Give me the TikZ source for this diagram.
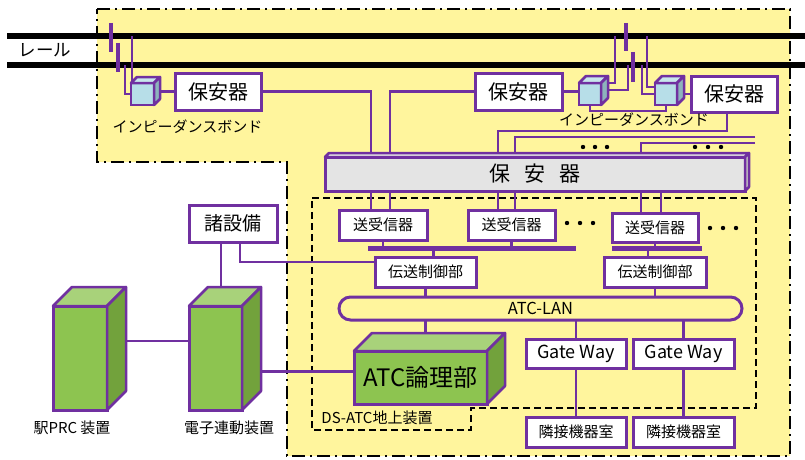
\documentclass[tikz,border=0pt]{standalone}
\usepackage{fontspec}
\setmainfont{Noto Sans CJK JP}
\usepackage{xcolor}
\usepackage{tikz}
\usetikzlibrary{calc}

\definecolor{atcpurple}{HTML}{7030A0}
\definecolor{areayellow}{HTML}{FFF59D}
\definecolor{bondfront}{HTML}{B7DEE8}
\definecolor{bondtop}{HTML}{C8E6EC}
\definecolor{bondside}{HTML}{8DB3BC}
\definecolor{devfront}{HTML}{8DC450}
\definecolor{devtop}{HTML}{A8D27A}
\definecolor{devside}{HTML}{72A23C}
\definecolor{rackgrey}{HTML}{E4E4E4}

\newcommand{\jfs}[1]{\fontsize{#1}{#1}\selectfont}
% top and right faces of a box drawn in depth
\newcommand{\blockfaces}[4]{%
    \filldraw[face, fill=#3] (#1.north west) -- ++(#2,-#2) -- ([shift={(#2,-#2)}]#1.north east) -- (#1.north east) -- cycle;
    \filldraw[face, fill=#4] (#1.north east) -- ([shift={(#2,-#2)}]#1.north east) -- ([shift={(#2,-#2)}]#1.south east) -- (#1.south east) -- cycle;
}

\pgfdeclarelayer{ground}
\pgfdeclarelayer{cables}
\pgfsetlayers{ground,cables,main}

\tikzset{
    box/.style={draw=atcpurple, line width=3pt, fill=white, inner sep=0pt, outer sep=0pt},
    block/.style={box, fill=devfront},
    bond/.style={box, line width=2.5pt, fill=bondfront, minimum width=22pt, minimum height=22pt},
    face/.style={draw=atcpurple, line width=2.5pt, line join=round},
    wire/.style={draw=atcpurple, line width=2.4pt},
    bus/.style={draw=atcpurple, line width=5pt},
    joint/.style={draw=atcpurple, line width=4pt},
    rail/.style={draw=black, line width=5.5pt},
    area/.style={fill=areayellow, draw=black, line width=2.5pt, dash pattern=on 13pt off 5pt on 2pt off 5pt},
    frame/.style={draw=black, line width=1.8pt, dash pattern=on 7pt off 4pt},
    caption/.style={inner sep=0pt, font=\jfs{15}}
}

\begin{document}
\begin{tikzpicture}[x=1pt,y=-1pt]
    \useasboundingbox (0,0) rectangle (805,460);

    % wayside equipment
    \draw (218,91.5)   node[box, minimum width=86pt, minimum height=37pt, font=\jfs{20}](hoan1){保安器};
    \draw (518.5,91.5) node[box, minimum width=87pt, minimum height=37pt, font=\jfs{20}](hoan2){保安器};
    \draw (734,94)     node[box, minimum width=86pt, minimum height=36pt, font=\jfs{20}](hoan3){保安器};
    \draw (142.5,94)   node[bond, minimum width=23pt](cube1){};
    \draw (590,94)     node[bond](cube2){};
    \draw (666,94)     node[bond](cube3){};

    \draw (535,174) node[box, fill=rackgrey, minimum width=420pt, minimum height=34pt, font=\jfs{21}](hoanall){保\hspace{14pt}安\hspace{14pt}器};

    \draw (383,225)   node[box, minimum width=88pt, minimum height=30pt, font=\jfs{15}](sj1){送受信器};
    \draw (511.5,225) node[box, minimum width=87pt, minimum height=30pt, font=\jfs{15}](sj2){送受信器};
    \draw (655,227.5) node[box, minimum width=86pt, minimum height=29pt, font=\jfs{15}](sj3){送受信器};
    \draw (425.5,272) node[box, minimum width=101pt, minimum height=30pt, font=\jfs{15}](den1){伝送制御部};
    \draw (655,272)   node[box, minimum width=102pt, minimum height=30pt, font=\jfs{15}](den2){伝送制御部};
    \draw (233,223.5) node[box, minimum width=88pt, minimum height=37pt, font=\jfs{19}](shosetsubi){諸設備};

    \draw (540.5,308.5) node[box, fill=areayellow, rounded corners=11.5pt, minimum width=403pt, minimum height=23pt, font=\jfs{16.5}](lan){ATC-LAN};
    \draw (576,353.5)   node[box, minimum width=100pt, minimum height=29pt, font=\jfs{18}](gw1){Gate Way};
    \draw (683.5,353.5) node[box, minimum width=101pt, minimum height=29pt, font=\jfs{18}](gw2){Gate Way};
    \draw (576,432)     node[box, minimum width=100pt, minimum height=30pt, font=\jfs{15}](rin1){隣接機器室};
    \draw (683.5,432)   node[box, minimum width=101pt, minimum height=30pt, font=\jfs{15}](rin2){隣接機器室};

    \draw (420.5,377.5) node[block, minimum width=133pt, minimum height=53pt, font=\jfs{24}](atc){ATC論理部};
    \draw (215.5,358)   node[block, minimum width=53pt, minimum height=104pt](densi){};
    \draw (80,358)      node[block, minimum width=54pt, minimum height=104pt](prc){};

    \blockfaces{cube1}{6}{bondtop}{bondside}
    \blockfaces{cube2}{7}{bondtop}{bondside}
    \blockfaces{cube3}{7}{bondtop}{bondside}
    \blockfaces{hoanall}{4}{rackgrey}{rackgrey!85!black}
    \blockfaces{atc}{18}{devtop}{devside}
    \blockfaces{densi}{19}{devtop}{devside}
    \blockfaces{prc}{19}{devtop}{devside}

    % captions
    \draw (45,50)      node[caption, font=\jfs{17.5}](raillabel){レール};
    \draw (187.5,127)  node[caption](bondlabel1){インピーダンスボンド};
    \draw (634,120)    node[caption](bondlabel2){インピーダンスボンド};
    \draw (377,418)    node[caption](dslabel){DS-ATC地上装置};
    \draw (72,428)     node[caption](prclabel){駅PRC 装置};
    \draw (229,428)    node[caption](densilabel){電子連動装置};

    \begin{pgfonlayer}{ground}
        \filldraw[area] (97,9) -- (790,9) -- (790,456) -- (287,456) -- (287,162) -- (97,162) -- cycle;
        \draw[rail] (7,36) -- (805,36);
        \draw[rail] (7,65) -- (805,65);
        \draw[frame] (312,198) -- (756,198) -- (756,408) -- (471,408) -- (471,430) -- (312,430) -- cycle;
    \end{pgfonlayer}

    \begin{pgfonlayer}{cables}
        % rail joints and bond leads
        \draw[joint] (111,23) -- (111,52);
        \draw[joint] (118,43) -- (118,72);
        \draw[joint] (626,23) -- (626,51);
        \draw[joint] (633,52) -- (633,82);
        \coordinate (up1) at (132,36);
        \coordinate (lo1) at (125,65);
        \coordinate (up2) at (615,36);
        \coordinate (lo2) at (628,65);
        \coordinate (up3) at (647,36);
        \coordinate (lo3) at (642,65);
        \draw[wire] (up1) -- (up1 |- cube1.north);
        \draw[wire] (lo1) |- (cube1.west);
        \draw[wire] (up2) |- ([xshift=7pt]cube2.north east);
        \draw[wire] (lo2) |- ([shift={(7,-4)}]cube2.east);
        \draw[wire] (up3) |- ([yshift=7pt]cube3.west);
        \draw[wire] (lo3) |- (cube3.west);
        \draw[wire] (cube2.south) -- ++(0,6) -| (cube3.south);
        \draw[wire] (cube1.east |- hoan1.west) -- (hoan1.west);
        \draw[wire] (hoan2.east) -- (hoan2.east -| cube2.west);
        \draw[wire] (cube3.east |- hoan3.west) -- (hoan3.west);

        % cables through the protector rack
        \coordinate (feed1) at (755,137);
        \coordinate (feed2) at (755,143);
        \draw[wire] (hoan1.east) -| ([xshift=32pt]sj1.north west);
        \draw[wire] (hoan2.west) -| ([xshift=51pt]sj1.north west);
        \draw[wire] ([xshift=-7pt]hoan3.south) -- ++(0,19) -| ([xshift=30pt]sj2.north west);
        \draw[wire] (feed1) -| ([xshift=47pt]sj2.north west);
        \draw[wire] (feed2) -| ([xshift=29pt]sj3.north west);
        \draw[wire] ([xshift=49pt]sj3.north west) -- ([xshift=49pt]sj3.north west |- hoanall.south);

        % transceiver buses
        \coordinate (bus1w) at (368,248);
        \coordinate (bus1e) at (576,248);
        \coordinate (bus2w) at (612,248);
        \coordinate (bus2e) at (702,248);
        \draw[bus] (bus1w) -- (bus1e);
        \draw[bus] (bus2w) -- (bus2e);
        \draw[wire] (sj1.south) -- (sj1.south |- bus1w);
        \draw[wire] (sj2.south) -- (sj2.south |- bus1w);
        \draw[wire] (sj3.south) -- (sj3.south |- bus2w);
        \draw[wire] ([xshift=8pt]den1.north) -- ([xshift=8pt]den1.north |- bus1w);
        \draw[wire] ([xshift=-7pt]den2.north) -- ([xshift=-7pt]den2.north |- bus2w);

        % ATC-LAN
        \draw[wire] (den1.south) -- (den1.south |- lan.north);
        \draw[wire] (den2.south) -- (den2.south |- lan.north);
        \draw[wire] (den1.south |- lan.south) -- (den1.south |- atc.north);
        \draw[wire] (gw1.north |- lan.south) -- (gw1.north);
        \draw[wire] (gw2.north |- lan.south) -- (gw2.north);
        \draw[wire] (gw1) -- (rin1);
        \draw[wire] (gw2) -- (rin2);

        % station side
        \draw[wire] ([xshift=7pt]shosetsubi.south) |- ([yshift=10pt]den1.west);
        \draw[wire] ([xshift=-12pt]shosetsubi.south) -- ([xshift=-12pt]shosetsubi.south |- densi.north);
        \draw[wire] ([yshift=17pt]prc.east) -- ([yshift=17pt]densi.west);
        \draw[wire] ([yshift=6pt]atc.west) -- ([yshift=6pt]atc.west -| densi.east);
    \end{pgfonlayer}

    \foreach \x in {583,595,607} \fill (\x,147) circle (2.2pt);
    \foreach \x in {695,708,721} \fill (\x,147) circle (2.2pt);
    \foreach \x in {567,580,593} \fill (\x,223) circle (2.2pt);
    \foreach \x in {710,723,736} \fill (\x,228) circle (2.2pt);
\end{tikzpicture}
\end{document}
